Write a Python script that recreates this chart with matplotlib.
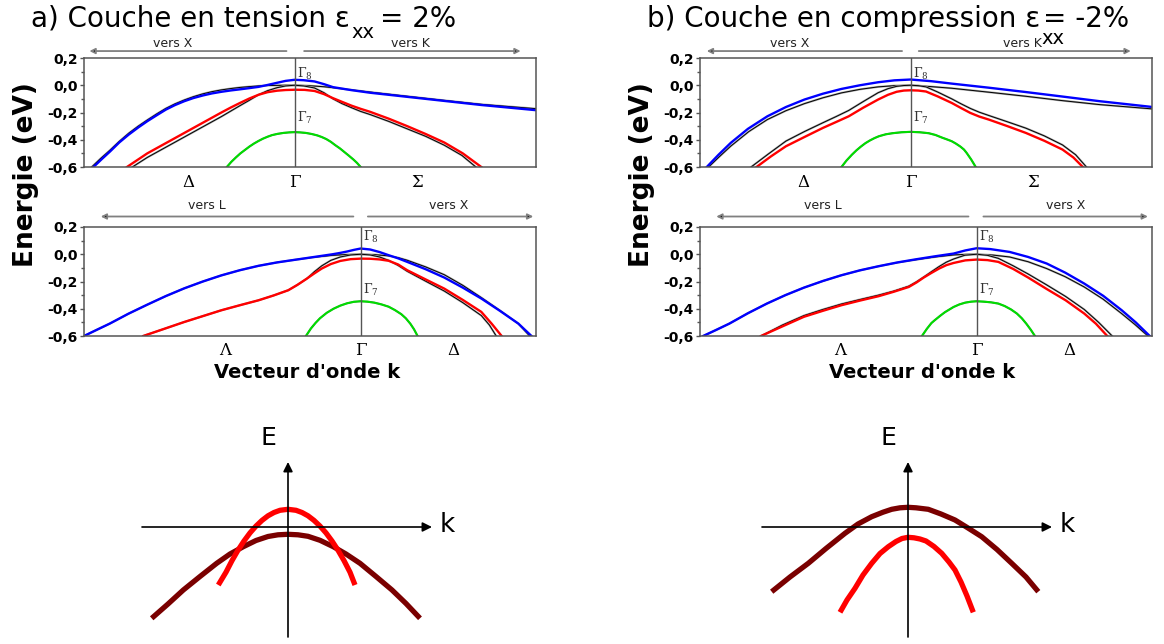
import matplotlib.pyplot as plt
from matplotlib.ticker import MultipleLocator

plt.rcParams['mathtext.fontset'] = 'dejavuserif'

W, H = 1164, 644

# ---------------- data (k in fraction of panel width, Gamma = 0 ; E in eV) ----------------
# a) tension, top panel : X <- Gamma -> K
tl_hh0_k = [-0.449, -0.430, -0.408, -0.388, -0.367, -0.346, -0.326, -0.305, -0.285, -0.265, -0.244, -0.224, -0.203, -0.183, -0.162, -0.141, -0.121, -0.100, -0.080, -0.060, -0.039, -0.020, 0.0, 0.022, 0.044, 0.065, 0.085, 0.126, 0.167, 0.249, 0.331, 0.413, 0.534]
tl_hh0_E = [-0.600, -0.540, -0.475, -0.412, -0.352, -0.300, -0.255, -0.210, -0.170, -0.137, -0.108, -0.084, -0.063, -0.047, -0.034, -0.024, -0.016, -0.010, -0.005, -0.002, -0.001, 0.000, 0.000, -0.002, -0.006, -0.011, -0.018, -0.034, -0.050, -0.081, -0.111, -0.140, -0.172]
tl_blue_k = [-0.445, -0.426, -0.408, -0.388, -0.367, -0.346, -0.326, -0.305, -0.285, -0.265, -0.244, -0.224, -0.203, -0.183, -0.162, -0.141, -0.121, -0.100, -0.080, -0.060, -0.039, -0.020, 0.0, 0.020, 0.044, 0.065, 0.085, 0.126, 0.167, 0.249, 0.331, 0.413, 0.534]
tl_blue_E = [-0.600, -0.540, -0.485, -0.420, -0.362, -0.310, -0.264, -0.220, -0.179, -0.146, -0.117, -0.094, -0.075, -0.060, -0.048, -0.038, -0.030, -0.021, -0.012, 0.002, 0.018, 0.032, 0.040, 0.037, 0.028, 0.008, -0.014, -0.036, -0.055, -0.085, -0.115, -0.145, -0.183]
tl_lh0_k = [-0.359, -0.326, -0.285, -0.244, -0.203, -0.162, -0.121, -0.100, -0.080, -0.060, -0.039, -0.020, 0.0, 0.020, 0.044, 0.065, 0.085, 0.105, 0.126, 0.146, 0.167, 0.208, 0.249, 0.290, 0.331, 0.370, 0.401]
tl_lh0_E = [-0.600, -0.530, -0.455, -0.380, -0.305, -0.230, -0.150, -0.110, -0.070, -0.040, -0.018, -0.005, 0.000, -0.005, -0.020, -0.055, -0.100, -0.135, -0.165, -0.192, -0.215, -0.265, -0.320, -0.375, -0.440, -0.515, -0.600]
tl_red_k = [-0.371, -0.326, -0.285, -0.244, -0.203, -0.162, -0.141, -0.121, -0.100, -0.080, -0.060, -0.039, -0.020, 0.0, 0.022, 0.044, 0.065, 0.085, 0.105, 0.126, 0.146, 0.167, 0.208, 0.249, 0.290, 0.331, 0.372, 0.413]
tl_red_E = [-0.600, -0.500, -0.425, -0.350, -0.275, -0.200, -0.163, -0.130, -0.097, -0.070, -0.051, -0.040, -0.035, -0.033, -0.034, -0.042, -0.065, -0.095, -0.122, -0.150, -0.173, -0.195, -0.245, -0.300, -0.358, -0.420, -0.500, -0.600]
tl_so_k = [-0.150, -0.140, -0.130, -0.120, -0.110, -0.100, -0.090, -0.080, -0.070, -0.060, -0.050, -0.038, -0.025, -0.012, 0.0, 0.012, 0.025, 0.038, 0.050, 0.060, 0.070, 0.080, 0.090, 0.100, 0.110, 0.120, 0.130, 0.138, 0.146]
tl_so_E = [-0.600, -0.562, -0.530, -0.500, -0.475, -0.450, -0.428, -0.409, -0.392, -0.378, -0.366, -0.357, -0.350, -0.346, -0.344, -0.346, -0.350, -0.358, -0.368, -0.380, -0.395, -0.415, -0.440, -0.463, -0.490, -0.517, -0.545, -0.570, -0.600]

# b) compression, top panel : X <- Gamma -> K
tr_hh0_k = [-0.447, -0.425, -0.398, -0.358, -0.317, -0.276, -0.235, -0.194, -0.153, -0.112, -0.072, -0.036, 0.0, 0.045, 0.091, 0.173, 0.255, 0.336, 0.418, 0.536]
tr_hh0_E = [-0.600, -0.530, -0.447, -0.340, -0.252, -0.187, -0.135, -0.092, -0.056, -0.030, -0.012, -0.003, 0.000, -0.010, -0.022, -0.051, -0.081, -0.113, -0.142, -0.174]
tr_blue_k = [-0.451, -0.425, -0.398, -0.360, -0.317, -0.276, -0.235, -0.194, -0.153, -0.112, -0.072, -0.036, 0.0, 0.045, 0.091, 0.173, 0.255, 0.336, 0.418, 0.536]
tr_blue_E = [-0.600, -0.510, -0.423, -0.320, -0.228, -0.160, -0.105, -0.062, -0.027, 0.000, 0.022, 0.036, 0.042, 0.030, 0.012, -0.018, -0.050, -0.083, -0.117, -0.160]
tr_lh0_k = [-0.353, -0.315, -0.276, -0.235, -0.194, -0.165, -0.137, -0.105, -0.072, -0.050, -0.031, -0.015, 0.0, 0.017, 0.034, 0.060, 0.091, 0.112, 0.132, 0.152, 0.173, 0.214, 0.255, 0.296, 0.336, 0.365, 0.389]
tr_lh0_E = [-0.600, -0.505, -0.410, -0.340, -0.275, -0.230, -0.185, -0.120, -0.055, -0.025, -0.008, -0.002, 0.000, -0.003, -0.012, -0.050, -0.100, -0.137, -0.170, -0.198, -0.222, -0.268, -0.315, -0.372, -0.438, -0.510, -0.600]
tr_red_k = [-0.341, -0.309, -0.276, -0.235, -0.194, -0.165, -0.137, -0.105, -0.072, -0.050, -0.031, -0.015, 0.0, 0.017, 0.034, 0.060, 0.091, 0.112, 0.132, 0.152, 0.173, 0.214, 0.255, 0.296, 0.336, 0.360, 0.381]
tr_red_E = [-0.600, -0.522, -0.448, -0.380, -0.313, -0.270, -0.228, -0.165, -0.105, -0.070, -0.048, -0.039, -0.037, -0.039, -0.046, -0.082, -0.130, -0.168, -0.203, -0.230, -0.252, -0.300, -0.350, -0.408, -0.472, -0.530, -0.600]
tr_so_k = [-0.153, -0.142, -0.130, -0.120, -0.110, -0.100, -0.090, -0.080, -0.070, -0.055, -0.040, -0.020, 0.0, 0.020, 0.040, 0.055, 0.070, 0.080, 0.091, 0.100, 0.110, 0.118, 0.124, 0.134, 0.144]
tr_so_E = [-0.600, -0.553, -0.510, -0.478, -0.450, -0.425, -0.405, -0.388, -0.374, -0.360, -0.352, -0.345, -0.342, -0.345, -0.352, -0.365, -0.385, -0.397, -0.411, -0.428, -0.450, -0.472, -0.497, -0.545, -0.600]

# a) tension, bottom panel : L <- Gamma -> X
bl_hh0_k = [-0.612, -0.584, -0.555, -0.514, -0.472, -0.431, -0.390, -0.349, -0.308, -0.267, -0.226, -0.185, -0.144, -0.103, -0.062, -0.031, 0.0, 0.031, 0.062, 0.083, 0.103, 0.144, 0.185, 0.226, 0.267, 0.308, 0.349, 0.374]
bl_hh0_E = [-0.600, -0.555, -0.509, -0.437, -0.370, -0.307, -0.250, -0.200, -0.155, -0.117, -0.085, -0.060, -0.040, -0.022, -0.008, -0.002, 0.000, -0.003, -0.012, -0.025, -0.044, -0.093, -0.150, -0.228, -0.318, -0.412, -0.510, -0.600]
bl_blue_k = [-0.612, -0.584, -0.555, -0.514, -0.472, -0.431, -0.390, -0.349, -0.308, -0.267, -0.226, -0.185, -0.144, -0.103, -0.062, -0.045, -0.030, -0.015, 0.0, 0.021, 0.042, 0.062, 0.083, 0.103, 0.144, 0.185, 0.226, 0.267, 0.308, 0.349, 0.378]
bl_blue_E = [-0.600, -0.555, -0.509, -0.437, -0.370, -0.307, -0.250, -0.200, -0.155, -0.117, -0.085, -0.060, -0.040, -0.020, 0.000, 0.010, 0.020, 0.032, 0.042, 0.035, 0.016, -0.007, -0.030, -0.056, -0.110, -0.171, -0.245, -0.325, -0.415, -0.509, -0.600]
bl_lh0_k = [-0.481, -0.435, -0.390, -0.349, -0.308, -0.267, -0.226, -0.193, -0.160, -0.140, -0.119, -0.103, -0.086, -0.066, -0.045, -0.022, 0.0, 0.021, 0.042, 0.062, 0.083, 0.103, 0.144, 0.185, 0.226, 0.267, 0.285, 0.300]
bl_lh0_E = [-0.600, -0.548, -0.497, -0.454, -0.411, -0.374, -0.338, -0.303, -0.264, -0.225, -0.179, -0.130, -0.085, -0.045, -0.020, -0.005, 0.000, -0.005, -0.020, -0.045, -0.082, -0.125, -0.198, -0.270, -0.355, -0.450, -0.520, -0.600]
bl_red_k = [-0.481, -0.435, -0.390, -0.349, -0.308, -0.267, -0.226, -0.193, -0.160, -0.140, -0.119, -0.103, -0.086, -0.066, -0.045, -0.022, 0.0, 0.021, 0.042, 0.062, 0.083, 0.103, 0.144, 0.185, 0.226, 0.267, 0.290, 0.312]
bl_red_E = [-0.600, -0.548, -0.497, -0.454, -0.411, -0.374, -0.338, -0.303, -0.264, -0.225, -0.179, -0.142, -0.105, -0.072, -0.049, -0.036, -0.032, -0.033, -0.038, -0.048, -0.075, -0.117, -0.185, -0.252, -0.335, -0.423, -0.510, -0.600]
bl_so_k = [-0.121, -0.110, -0.100, -0.090, -0.075, -0.060, -0.045, -0.030, -0.015, 0.0, 0.015, 0.030, 0.046, 0.062, 0.076, 0.090, 0.100, 0.110, 0.118, 0.126]
bl_so_E = [-0.600, -0.545, -0.505, -0.470, -0.430, -0.400, -0.377, -0.360, -0.349, -0.345, -0.348, -0.355, -0.368, -0.385, -0.410, -0.440, -0.470, -0.510, -0.550, -0.600]

# b) compression, bottom panel : L <- Gamma -> X
br_hh0_k = [-0.605, -0.576, -0.547, -0.506, -0.464, -0.423, -0.382, -0.340, -0.299, -0.258, -0.217, -0.175, -0.134, -0.092, -0.051, -0.025, 0.0, 0.036, 0.073, 0.114, 0.155, 0.196, 0.238, 0.280, 0.321, 0.350, 0.379]
br_hh0_E = [-0.600, -0.555, -0.509, -0.433, -0.362, -0.300, -0.245, -0.197, -0.154, -0.118, -0.088, -0.061, -0.040, -0.020, -0.005, -0.001, 0.000, -0.006, -0.020, -0.055, -0.105, -0.165, -0.240, -0.330, -0.436, -0.515, -0.600]
br_blue_k = [-0.605, -0.576, -0.547, -0.506, -0.464, -0.423, -0.382, -0.340, -0.299, -0.258, -0.217, -0.175, -0.134, -0.092, -0.051, -0.025, 0.0, 0.030, 0.073, 0.114, 0.155, 0.196, 0.238, 0.280, 0.321, 0.352, 0.383]
br_blue_E = [-0.600, -0.555, -0.509, -0.433, -0.362, -0.300, -0.245, -0.196, -0.154, -0.118, -0.088, -0.060, -0.037, -0.015, 0.005, 0.028, 0.044, 0.038, 0.017, -0.020, -0.068, -0.135, -0.215, -0.305, -0.411, -0.500, -0.600]
br_lh0_k = [-0.477, -0.430, -0.382, -0.340, -0.299, -0.258, -0.217, -0.183, -0.150, -0.133, -0.117, -0.100, -0.083, -0.067, -0.051, -0.026, 0.0, 0.024, 0.048, 0.081, 0.114, 0.155, 0.197, 0.238, 0.270, 0.300]
br_lh0_E = [-0.600, -0.520, -0.450, -0.405, -0.365, -0.332, -0.300, -0.270, -0.234, -0.202, -0.167, -0.128, -0.090, -0.058, -0.035, -0.007, 0.000, -0.008, -0.030, -0.085, -0.145, -0.225, -0.310, -0.405, -0.500, -0.600]
br_red_k = [-0.477, -0.430, -0.382, -0.340, -0.299, -0.258, -0.217, -0.183, -0.150, -0.133, -0.117, -0.100, -0.083, -0.067, -0.051, -0.025, 0.0, 0.024, 0.048, 0.081, 0.114, 0.155, 0.197, 0.238, 0.264, 0.289]
br_red_E = [-0.600, -0.530, -0.459, -0.415, -0.374, -0.340, -0.308, -0.275, -0.240, -0.207, -0.171, -0.137, -0.105, -0.080, -0.064, -0.045, -0.039, -0.043, -0.056, -0.108, -0.171, -0.255, -0.338, -0.435, -0.510, -0.600]
br_so_k = [-0.121, -0.110, -0.100, -0.093, -0.080, -0.070, -0.060, -0.051, -0.038, -0.025, -0.012, 0.0, 0.016, 0.032, 0.048, 0.062, 0.076, 0.089, 0.100, 0.110, 0.120, 0.129]
br_so_E = [-0.600, -0.547, -0.505, -0.485, -0.450, -0.425, -0.405, -0.387, -0.368, -0.355, -0.348, -0.345, -0.348, -0.353, -0.362, -0.380, -0.405, -0.435, -0.470, -0.510, -0.555, -0.600]

ytick_vals = [-0.6, -0.4, -0.2, 0.0, 0.2]
ytick_labels = ['-0,6', '-0,4', '-0,2', '0,0', '0,2']

# schematic E(k) sketches (pixel-like units, origin at the axis cross)
sa_red_k = [-69.7, -62.0, -56.0, -50.0, -44.0, -38.0, -32.0, -26.0, -20.0, -14.0, -8.0, 0.0, 8.0, 14.0, 20.0, 26.0, 32.0, 38.0, 44.0, 50.0, 56.0, 62.0, 67.0]
sa_red_E = [-58.0, -45.2, -33.6, -23.2, -14.0, -5.9, 0.9, 6.6, 11.2, 14.5, 16.7, 17.7, 16.7, 14.5, 11.2, 6.6, 0.9, -5.9, -14.0, -23.2, -33.6, -45.2, -58.0]
sa_dark_k = [-136.3, -120.0, -104.7, -88.0, -71.3, -58.0, -44.7, -32.0, -20.0, -10.0, 0.0, 10.0, 20.0, 32.0, 45.3, 58.0, 72.0, 88.0, 104.0, 118.0, 132.0]
sa_dark_E = [-91.3, -77.0, -63.0, -49.5, -36.3, -27.0, -19.7, -13.5, -9.5, -7.8, -7.3, -7.8, -9.3, -13.3, -19.7, -27.0, -36.3, -49.5, -63.0, -76.5, -91.3]
sb_dark_k = [-136.3, -118.0, -99.7, -82.0, -63.0, -50.0, -36.3, -25.0, -16.3, -8.0, 0.0, 8.0, 20.3, 33.0, 47.0, 60.0, 73.7, 89.0, 103.7, 118.0, 130.3]
sb_dark_E = [-64.7, -50.0, -36.3, -21.5, -6.3, 3.0, 10.3, 14.8, 17.7, 19.2, 19.7, 19.2, 17.7, 13.0, 7.0, -1.0, -9.7, -22.5, -36.3, -50.0, -64.7]
sb_red_k = [-68.0, -61.0, -53.0, -45.0, -36.3, -28.0, -19.7, -12.0, -6.0, 0.0, 6.0, 12.0, 18.0, 26.0, 33.7, 41.0, 47.0, 53.0, 59.0, 65.3]
sb_red_E = [-85.3, -73.0, -61.3, -48.0, -36.3, -26.5, -19.7, -14.5, -11.5, -10.3, -10.8, -12.0, -14.0, -19.5, -26.3, -35.0, -43.0, -55.0, -69.0, -85.3]


def px_box(x0, y0, x1, y1):
    return [x0 / W, 1 - y1 / H, (x1 - x0) / W, (y1 - y0) / H]


def band_panel(ax, xlim, curves, syms, arrows, g8_y, g7_y, sym_y, arr_y, txt_y):
    ref, blue, red, so = curves
    for k, e in ref:
        ax.plot(k, e, color='#a8a8a8', lw=1.5)
        ax.plot(k, e, color='black', lw=0.7)
    ax.plot(so[0], so[1], color='#00dd00', lw=1.5)
    ax.plot(red[0], red[1], color='#ff0000', lw=1.7)
    ax.plot(blue[0], blue[1], color='#0000ff', lw=1.7)
    ax.axvline(0, color='#555555', lw=1)
    ax.set_xlim(*xlim)
    ax.set_ylim(-0.6, 0.2)
    ax.set_xticks([])
    ax.set_yticks(ytick_vals, ytick_labels, fontweight='bold', fontsize=10)
    ax.yaxis.set_minor_locator(MultipleLocator(0.1))
    ax.tick_params(axis='y', which='major', direction='out', length=3, width=1,
                   color='#555555', pad=1.5)
    ax.tick_params(axis='y', which='minor', direction='out', length=2.2, width=1,
                   color='#555555')
    for s in ax.spines.values():
        s.set_color('#555555')
        s.set_linewidth(1.1)
    ax.text(0.005, g8_y, r'$\Gamma_8$', fontsize=9, ha='left', va='center', color='#333333')
    ax.text(0.005, g7_y, r'$\Gamma_7$', fontsize=9, ha='left', va='center', color='#333333')
    for k, s in syms:
        ax.text(k, sym_y, s, family='DejaVu Serif', fontsize=12, ha='center', va='center',
                clip_on=False)
    for k0, k1, kt, label in arrows:
        ax.annotate('', xy=(k1, arr_y), xytext=(k0, arr_y), annotation_clip=False,
                    arrowprops=dict(arrowstyle='-|>', lw=1.3, ec='#808080', fc='black',
                                    mutation_scale=8, shrinkA=0, shrinkB=0))
        ax.text(kt, txt_y, label, fontsize=9, ha='center', va='center', color='#222222',
                clip_on=False)


fig = plt.figure(figsize=(W / 100, H / 100), dpi=100)

ax_tl = fig.add_axes(px_box(84, 58, 536, 167))
ax_tr = fig.add_axes(px_box(700, 58, 1152, 167))
ax_bl = fig.add_axes(px_box(84, 227, 536, 336))
ax_br = fig.add_axes(px_box(700, 227, 1152, 336))

top_lim = (-0.466, 0.534)
bot_lim = (-0.612, 0.388)

band_panel(ax_tl, top_lim,
           ([(tl_hh0_k, tl_hh0_E), (tl_lh0_k, tl_lh0_E), (tl_so_k, tl_so_E)],
            (tl_blue_k, tl_blue_E), (tl_red_k, tl_red_E), (tl_so_k, tl_so_E)),
           [(-0.236, 'Δ'), (0.0, 'Γ'), (0.272, 'Σ')],
           [(-0.018, -0.454, -0.269, 'vers X'), (0.021, 0.500, 0.257, 'vers K')],
           0.085, -0.24, -0.717, 0.251, 0.31)
band_panel(ax_tr, top_lim,
           ([(tr_hh0_k, tr_hh0_E), (tr_lh0_k, tr_lh0_E), (tr_so_k, tr_so_E)],
            (tr_blue_k, tr_blue_E), (tr_red_k, tr_red_E), (tr_so_k, tr_so_E)),
           [(-0.237, 'Δ'), (0.0, 'Γ'), (0.271, 'Σ')],
           [(-0.019, -0.451, -0.268, 'vers X'), (0.018, 0.487, 0.247, 'vers K')],
           0.085, -0.24, -0.717, 0.251, 0.31)
band_panel(ax_bl, bot_lim,
           ([(bl_hh0_k, bl_hh0_E), (bl_lh0_k, bl_lh0_E), (bl_so_k, bl_so_E)],
            (bl_blue_k, bl_blue_E), (bl_red_k, bl_red_E), (bl_so_k, bl_so_E)),
           [(-0.300, 'Λ'), (0.0, 'Γ'), (0.205, 'Δ')],
           [(-0.016, -0.575, -0.341, 'vers L'), (0.016, 0.382, 0.194, 'vers X')],
           0.125, -0.26, -0.703, 0.277, 0.361)
band_panel(ax_br, bot_lim,
           ([(br_hh0_k, br_hh0_E), (br_lh0_k, br_lh0_E), (br_so_k, br_so_E)],
            (br_blue_k, br_blue_E), (br_red_k, br_red_E), (br_so_k, br_so_E)),
           [(-0.303, 'Λ'), (0.0, 'Γ'), (0.205, 'Δ')],
           [(-0.018, -0.576, -0.340, 'vers L'), (0.015, 0.379, 0.197, 'vers X')],
           0.125, -0.26, -0.703, 0.277, 0.361)

# axis labels
for x in (26, 642):
    fig.text(x / W, 1 - 175 / H, 'Energie (eV)', rotation=90, fontsize=19,
             fontweight='bold', ha='center', va='center')
for x in (307, 922):
    fig.text(x / W, 1 - 372 / H, "Vecteur d'onde k", fontsize=14, fontweight='bold',
             ha='center', va='center')

# titles
ta = fig.text(31 / W, 1 - 27 / H, 'a) Couche en tension ε', fontsize=20, va='baseline')
sa = ax_tl.annotate('xx', xy=(1, 0), xycoords=ta, xytext=(1, 0), textcoords='offset points',
                    ha='left', va='center', fontsize=14, annotation_clip=False)
ax_tl.annotate('= 2%', xy=(1, 0), xycoords=(sa, ta), xytext=(4, 0), textcoords='offset points',
               ha='left', va='bottom', fontsize=20, annotation_clip=False)
tb = fig.text(647 / W, 1 - 27 / H, 'b) Couche en compression ε', fontsize=20, va='baseline')
ax_tr.annotate('xx', xy=(1, 0), xycoords=tb, xytext=(1, -4), textcoords='offset points',
               ha='left', va='center', fontsize=14, annotation_clip=False)
ax_tr.annotate('= -2%', xy=(1, 0), xycoords=tb, xytext=(2, 0), textcoords='offset points',
               ha='left', va='bottom', fontsize=20, annotation_clip=False)


# schematic sketches
def sketch(ax, curves):
    ax.set_xlim(-188, 212)
    ax.set_ylim(-117, 127)
    ax.axis('off')
    ap = dict(arrowstyle='-|>', color='black', lw=1.2, mutation_scale=14, shrinkA=0, shrinkB=0)
    ax.annotate('', xy=(144, 0), xytext=(-146, 0), arrowprops=ap)
    ax.annotate('', xy=(0, 65), xytext=(0, -110), arrowprops=ap)
    ax.text(-20, 89, 'E', fontsize=18, ha='center', va='center')
    ax.text(159, 2, 'k', fontsize=19, ha='center', va='center')
    for k, e, c in curves:
        ax.plot(k, e, color=c, lw=3.8, solid_capstyle='butt', solid_joinstyle='round')


sketch(fig.add_axes(px_box(100, 400, 500, 644)),
       [(sa_dark_k, sa_dark_E, '#7a0000'), (sa_red_k, sa_red_E, '#ff0000')])
sketch(fig.add_axes(px_box(720, 400, 1120, 644)),
       [(sb_dark_k, sb_dark_E, '#7a0000'), (sb_red_k, sb_red_E, '#ff0000')])

fig.savefig('out.png', dpi=100)
